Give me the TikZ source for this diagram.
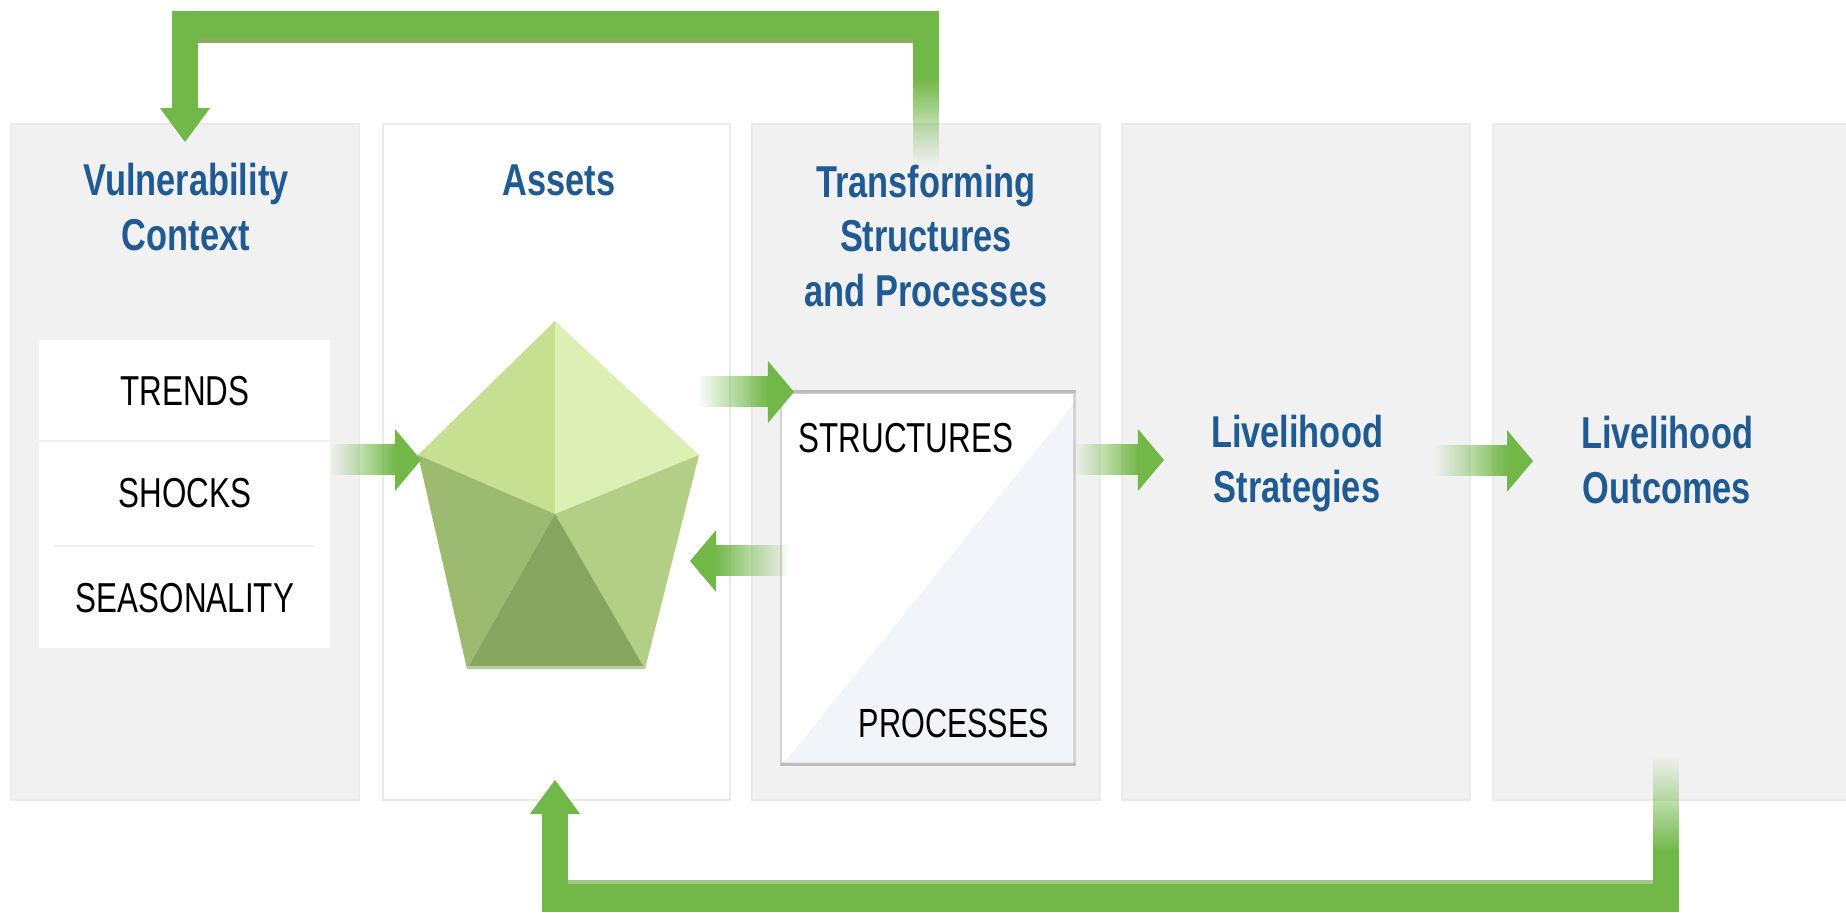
\documentclass[tikz,border=0pt]{standalone}
\usepackage{fontspec}
\usetikzlibrary{arrows.meta,calc,fadings}
\newfontfamily\headfont[FakeStretch=0.77]{Liberation Sans}
\newfontfamily\capsfont[FakeStretch=0.75]{Liberation Sans}
\definecolor{panelgray}{HTML}{F1F1F1}
\definecolor{paneledge}{HTML}{EBEBEB}
\definecolor{flowgreen}{HTML}{72B849}
\definecolor{headblue}{HTML}{1F5A93}
\definecolor{boxedge}{HTML}{BDBDBD}
\definecolor{boxside}{HTML}{D2D2D2}
\definecolor{boxshade}{HTML}{F1F4F9}
\definecolor{rulegray}{HTML}{F2F2F2}
\definecolor{bandlow}{HTML}{85AF5E}
\definecolor{bandhigh}{HTML}{A6C68C}
\definecolor{pentaA}{HTML}{C6DF90}
\definecolor{pentaB}{HTML}{DCEFB4}
\definecolor{pentaC}{HTML}{B3CF85}
\definecolor{pentaD}{HTML}{9DBB70}
\definecolor{pentaE}{HTML}{87A55F}
\definecolor{pentaF}{HTML}{B9CF9F}
\tikzfading[name=fadeleft, left color=transparent!100, right color=transparent!0]
\tikzfading[name=faderight, left color=transparent!0, right color=transparent!100]
\tikzfading[name=fadedown, top color=transparent!0, bottom color=transparent!100]
\tikzfading[name=fadeup, top color=transparent!100, bottom color=transparent!0]
\begin{document}
\begin{tikzpicture}[x=0.01cm,y=-0.01cm,line cap=butt,line join=miter,
  panel/.style={fill=panelgray,draw=paneledge,line width=0.6pt,minimum width=3.47cm,minimum height=6.76cm,inner sep=0pt},
  heading/.style={font=\headfont\bfseries\fontsize{12.7pt}{15.4pt}\selectfont,text=headblue,align=center},
  capslabel/.style={font=\capsfont\fontsize{11.9pt}{14pt}\selectfont,text=black},
  flowhead/.style={flowgreen,line width=1pt,-{Triangle[length=7.4pt,width=17.6pt,line width=0pt]}},
  loophead/.style={flowgreen,line width=7.4pt,-{Triangle[length=9.6pt,width=14.2pt,line width=0pt]}},
  loopband/.style={flowgreen,line width=9.1pt},
  loopstem/.style={flowgreen,line width=7.4pt}]
\useasboundingbox (0,0) rectangle (1846,913);
% panels
\node[panel] (vuln) at (185,462) {};
\node[panel,fill=white] (assets) at (556.5,462) {};
\node[panel] (transform) at (926,462) {};
\node[panel] (strategies) at (1296,462) {};
\node[panel,minimum width=3.54cm] (outcomes) at (1670,462) {};
% list box
\node[fill=white,minimum width=2.91cm,minimum height=3.08cm,inner sep=0pt] (listbox) at (184.5,494) {};
\draw[rulegray,line width=0.5pt] (listbox.west |- 0,441) -- (listbox.east |- 0,441);
\draw[rulegray,line width=0.7pt] (54,546) -- (315,546);
% pentagon
\coordinate (pTop) at (555,321);
\coordinate (pLeft) at (418,455);
\coordinate (pRight) at (699,455);
\coordinate (pBotL) at (467,669);
\coordinate (pBotR) at (645,669);
\coordinate (pMid) at (555,514);
\fill[pentaA] (pTop) -- (pMid) -- (pLeft) -- cycle;
\fill[pentaB] (pTop) -- (pMid) -- (pRight) -- cycle;
\fill[pentaC] (pRight) -- (pMid) -- (pBotR) -- cycle;
\fill[pentaD] (pLeft) -- (pMid) -- (pBotL) -- cycle;
\fill[pentaE] (pMid) -- (pBotR) -- (pBotL) -- cycle;
\fill[pentaF] ($(pBotL)+(0,-3)$) rectangle (pBotR);
% structures and processes box
\node[fill=white,draw=boxside,line width=0.8pt,minimum width=2.93cm,minimum height=3.7cm,inner sep=0pt] (structbox) at (927.5,578) {};
\fill[boxshade] ($(structbox.north east)+(-3,14)$) -- ($(structbox.south east)+(-3,-2)$) -- ($(structbox.south west)+(5,-2)$) -- cycle;
\draw[boxedge,line width=0.9pt] (structbox.north west) -- (structbox.north east);
\draw[boxedge,line width=0.9pt] (structbox.south west) -- (structbox.south east);
% straight arrows
\foreach \tailx/\tipx/\flowy/\flowname in {330/421/460/a,697/794/392/b,1073/1164/460/c,1434/1533/461/d}{
  \coordinate (tail\flowname) at (\tailx,\flowy);
  \coordinate (tip\flowname) at (\tipx,\flowy);
  \coordinate (neck\flowname) at ($(tip\flowname)+(-26,0)$);
  \fill[flowgreen,path fading=fadeleft] ($(tail\flowname)+(0,-15.5)$) rectangle ($(neck\flowname)+(1,15.5)$);
  \draw[flowhead] (neck\flowname) -- (tip\flowname);
}
\coordinate (tailback) at (790,561);
\coordinate (tipback) at (690,561);
\coordinate (neckback) at (716,561);
\fill[flowgreen,path fading=faderight] ($(neckback)+(-1,-15.5)$) rectangle ($(tailback)+(0,15.5)$);
\draw[flowhead] (neckback) -- (tipback);
% feedback on top
\coordinate (topR) at (926,27);
\coordinate (topL) at (185,27);
\coordinate (topFade) at (926,80);
\coordinate (topEnd) at (926,165);
\coordinate (topTip) at (185,142);
\draw[loopband] ($(topR)+(13,0)$) -- ($(topL)+(-13,0)$);
\draw[loopstem] ($(topR)+(0,-16)$) -- (topFade);
\fill[flowgreen,path fading=fadedown] ($(topFade)+(-13,-1)$) rectangle ($(topEnd)+(13,0)$);
\draw[loophead] ($(topL)+(0,-16)$) -- (topTip);
\fill[bandlow] (198,38) rectangle (913,43);
% feedback below
\coordinate (botR) at (1666,896);
\coordinate (botL) at (555,896);
\coordinate (botFade) at (1666,850);
\coordinate (botEnd) at (1666,755);
\coordinate (botTip) at (555,780);
\draw[loopband] ($(botR)+(13,0)$) -- ($(botL)+(-13,0)$);
\draw[loopstem] ($(botR)+(0,16)$) -- (botFade);
\fill[flowgreen,path fading=fadeup] ($(botEnd)+(-13,0)$) rectangle ($(botFade)+(13,1)$);
\draw[loophead] ($(botL)+(0,16)$) -- (botTip);
\fill[bandhigh] (568,880) rectangle (1653,884);
% labels
\node[heading] (vulnlabel) at (186,207) {Vulnerability\\Context};
\node[heading] (assetlabel) at (559,180) {Assets};
\node[heading] (translabel) at (926,236) {Transforming\\Structures\\and Processes};
\node[heading] (stratlabel) at (1297,463.5) {Livelihood\\Strategies};
\node[heading] (outlabel) at (1667,460) {Livelihood\\Outcomes};
\node[capslabel] (trends) at (185,391) {TRENDS};
\node[capslabel] (shocks) at (185,493) {SHOCKS};
\node[capslabel] (season) at (185,598) {SEASONALITY};
\node[capslabel,anchor=west,inner sep=0pt] (structs) at (798,438) {STRUCTURES};
\node[capslabel,anchor=west,inner sep=0pt,font=\capsfont\fontsize{11.6pt}{14pt}\selectfont] (procs) at (858,723) {PROCESSES};
\end{tikzpicture}
\end{document}
